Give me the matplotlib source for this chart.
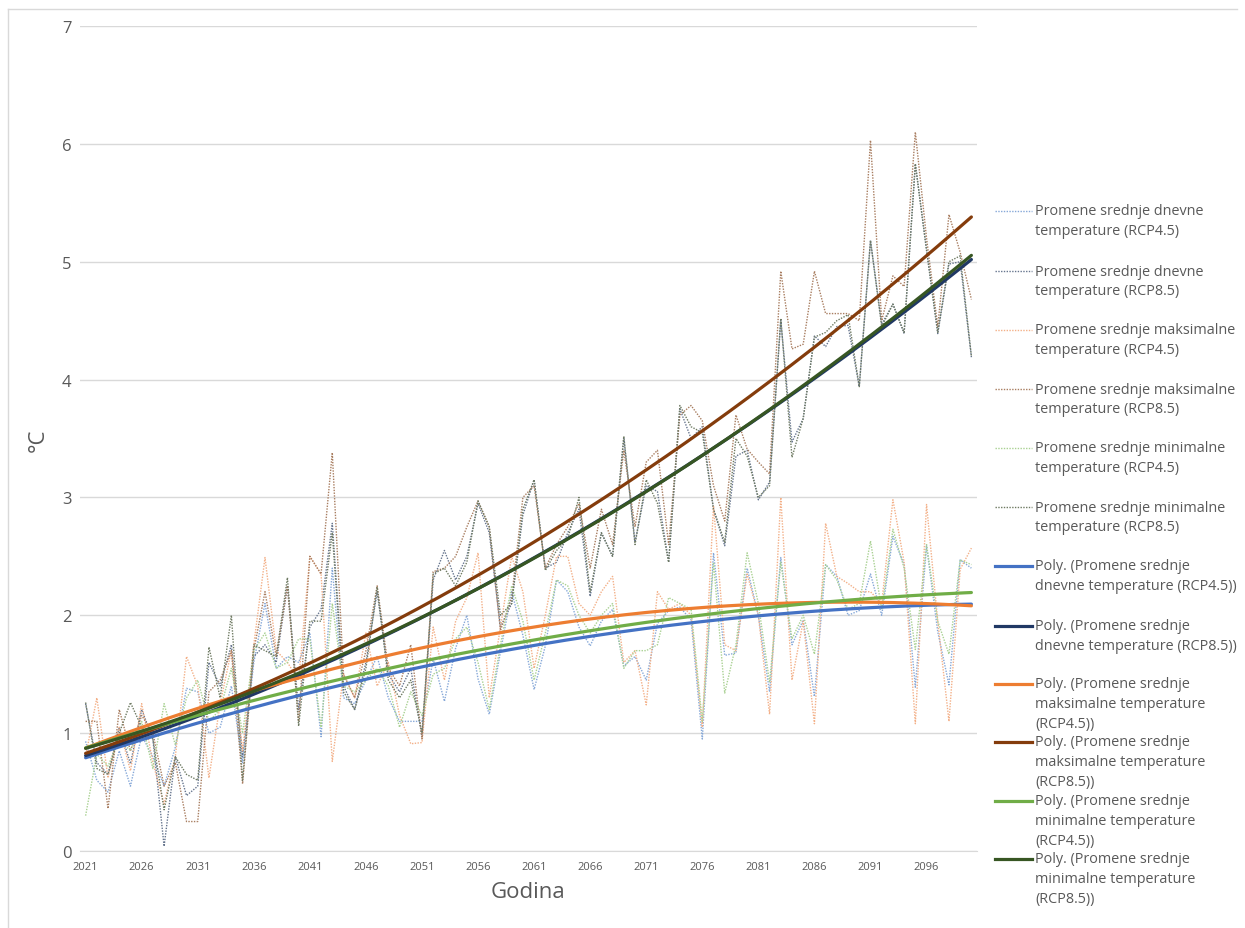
import numpy as np
import matplotlib
matplotlib.use("Agg")
import matplotlib.pyplot as plt
from matplotlib.lines import Line2D

plt.rcParams['font.family'] = ['Open Sans', 'DejaVu Sans']

years = list(range(2021, 2101))

dnevne_45 = [0.93, 0.60, 0.50, 0.85, 0.55, 0.98, 0.80, 0.55, 0.88, 1.38,
             1.35, 1.00, 1.05, 1.40, 0.75, 1.60, 2.10, 1.55, 1.65, 1.60,
             1.85, 0.97, 2.40, 1.30, 1.25, 1.45, 1.65, 1.30, 1.10, 1.10,
             1.10, 1.63, 1.27, 1.72, 2.00, 1.46, 1.16, 1.69, 2.20, 1.83,
             1.37, 1.74, 2.30, 2.20, 1.90, 1.74, 1.95, 2.05, 1.57, 1.65,
             1.45, 1.93, 2.04, 2.07, 1.96, 0.95, 2.53, 1.66, 1.68, 2.40,
             2.00, 1.35, 2.49, 1.75, 1.96, 1.31, 2.43, 2.33, 2.00, 2.04,
             2.35, 2.00, 2.67, 2.43, 1.39, 2.59, 1.86, 1.41, 2.47, 2.40]

dnevne_85 = [1.25, 0.75, 0.65, 1.05, 0.74, 1.20, 0.95, 0.04, 0.80, 0.47,
             0.55, 1.60, 1.40, 1.75, 0.80, 1.65, 1.75, 1.60, 2.25, 1.20,
             1.90, 2.05, 2.78, 1.40, 1.20, 1.60, 2.20, 1.50, 1.35, 1.55,
             0.97, 2.30, 2.55, 2.30, 2.50, 2.95, 2.70, 1.90, 2.10, 2.85,
             3.15, 2.40, 2.45, 2.70, 2.90, 2.16, 2.70, 2.50, 3.50, 2.62,
             3.10, 3.05, 2.45, 3.75, 3.50, 3.60, 2.90, 2.59, 3.35, 3.40,
             2.98, 3.13, 4.50, 3.47, 3.67, 4.37, 4.28, 4.45, 4.46, 3.94,
             5.18, 4.47, 4.64, 4.39, 5.83, 5.10, 4.39, 4.98, 5.00, 4.19]

maks_45 = [0.80, 1.30, 0.62, 1.05, 0.68, 1.25, 0.75, 0.40, 0.80, 1.65,
           1.40, 0.62, 1.25, 1.70, 0.85, 1.75, 2.49, 1.70, 1.60, 1.45,
           2.50, 2.35, 0.76, 1.50, 1.30, 1.85, 1.40, 1.60, 1.15, 0.91,
           0.92, 1.90, 1.45, 1.95, 2.15, 2.53, 1.30, 1.90, 2.50, 2.20,
           1.55, 2.00, 2.50, 2.50, 2.10, 2.00, 2.20, 2.33, 1.60, 1.70,
           1.24, 2.20, 2.05, 2.10, 2.00, 1.05, 2.93, 1.75, 1.70, 2.35,
           2.00, 1.16, 3.00, 1.45, 1.95, 1.08, 2.78, 2.33, 2.27, 2.20,
           2.20, 2.10, 2.98, 2.45, 1.08, 2.94, 1.95, 1.10, 2.39, 2.57]

maks_85 = [1.10, 1.10, 0.36, 1.20, 0.85, 1.15, 1.00, 0.55, 0.75, 0.25,
           0.25, 1.35, 1.45, 1.70, 0.57, 1.70, 2.20, 1.65, 2.25, 1.10,
           2.50, 2.35, 3.38, 1.50, 1.30, 1.70, 2.25, 1.55, 1.40, 1.75,
           0.95, 2.37, 2.40, 2.50, 2.75, 2.97, 2.75, 1.87, 2.15, 3.00,
           3.10, 2.40, 2.60, 2.75, 2.95, 2.40, 2.90, 2.60, 3.40, 2.75,
           3.30, 3.40, 2.60, 3.70, 3.78, 3.65, 3.10, 2.80, 3.70, 3.41,
           3.30, 3.20, 4.92, 4.26, 4.30, 4.92, 4.56, 4.56, 4.56, 4.50,
           6.03, 4.50, 4.88, 4.79, 6.10, 5.20, 4.45, 5.40, 5.08, 4.68]

min_45 = [0.30, 0.82, 0.72, 0.95, 0.85, 1.10, 0.70, 1.25, 0.90, 1.30,
          1.45, 1.10, 1.20, 1.55, 1.00, 1.70, 1.85, 1.55, 1.60, 1.80,
          1.80, 1.05, 2.10, 1.40, 1.35, 1.45, 1.55, 1.40, 1.05, 1.35,
          1.15, 1.50, 1.55, 1.80, 1.90, 1.60, 1.20, 1.75, 2.25, 1.95,
          1.45, 1.85, 2.30, 2.25, 2.00, 1.85, 2.00, 2.10, 1.55, 1.70,
          1.70, 1.75, 2.15, 2.10, 2.05, 1.10, 2.45, 1.34, 1.75, 2.53,
          2.10, 1.43, 2.45, 1.80, 2.00, 1.67, 2.43, 2.30, 2.05, 2.10,
          2.63, 2.05, 2.73, 2.40, 1.71, 2.60, 1.95, 1.67, 2.47, 2.43]

min_85 = [1.26, 0.70, 0.65, 1.00, 1.26, 1.05, 0.95, 0.35, 0.80, 0.65,
          0.60, 1.73, 1.30, 2.00, 0.60, 1.75, 1.70, 1.65, 2.32, 1.06,
          1.95, 1.95, 2.70, 1.35, 1.20, 1.55, 2.24, 1.45, 1.30, 1.45,
          1.00, 2.35, 2.40, 2.25, 2.45, 2.97, 2.75, 2.00, 2.10, 2.90,
          3.15, 2.38, 2.55, 2.65, 3.00, 2.20, 2.70, 2.50, 3.52, 2.60,
          3.15, 2.95, 2.45, 3.78, 3.60, 3.55, 2.90, 2.62, 3.50, 3.35,
          3.00, 3.10, 4.52, 3.34, 3.67, 4.36, 4.40, 4.50, 4.55, 3.94,
          5.18, 4.45, 4.64, 4.40, 5.83, 5.10, 4.40, 5.00, 5.05, 4.20]

series_labels = [
    "Promene srednje dnevne\ntemperature (RCP4.5)",
    "Promene srednje dnevne\ntemperature (RCP8.5)",
    "Promene srednje maksimalne\ntemperature (RCP4.5)",
    "Promene srednje maksimalne\ntemperature (RCP8.5)",
    "Promene srednje minimalne\ntemperature (RCP4.5)",
    "Promene srednje minimalne\ntemperature (RCP8.5)",
]
trend_labels = [
    "Poly. (Promene srednje\ndnevne temperature (RCP4.5))",
    "Poly. (Promene srednje\ndnevne temperature (RCP8.5))",
    "Poly. (Promene srednje\nmaksimalne temperature\n(RCP4.5))",
    "Poly. (Promene srednje\nmaksimalne temperature\n(RCP8.5))",
    "Poly. (Promene srednje\nminimalne temperature\n(RCP4.5))",
    "Poly. (Promene srednje\nminimalne temperature\n(RCP8.5))",
]
x_tick_years = list(range(2021, 2101, 5))
y_ticks = [0, 1, 2, 3, 4, 5, 6, 7]

data = [dnevne_45, dnevne_85, maks_45, maks_85, min_45, min_85]
dot_colors = ['#86a8d8', '#66758e', '#f3b088', '#a87d60', '#a9d192', '#6e7a62']
trend_colors = ['#4472C4', '#203864', '#ED7D31', '#843C0C', '#70AD47', '#375623']

W, H = 1245, 929
fig = plt.figure(figsize=(W / 100, H / 100), dpi=100)
ax = fig.add_axes([80 / W, 1 - 852 / H, (977 - 80) / W, (852 - 27) / H])

yrs = np.array(years, dtype=float)
dot_style = (0, (1.0, 1.0))
for vals, c in zip(data, dot_colors):
    ax.plot(yrs, vals, color=c, lw=1.0, linestyle=dot_style, zorder=2)

xf = np.linspace(yrs[0], yrs[-1], 300)
for vals, c in zip(data, trend_colors):
    coef = np.polyfit(yrs - 2060, np.array(vals), 2)
    ax.plot(xf, np.polyval(coef, xf - 2060), color=c, lw=2.3, zorder=3,
            solid_capstyle='round')

ax.set_xlim(2020.5, 2100.5)
ax.set_ylim(0, 7)
ax.set_yticks(y_ticks)
ax.set_xticks(x_tick_years)
ax.set_xticklabels([str(y) for y in x_tick_years], fontsize=8, color='#595959')
ax.set_yticklabels([str(v) for v in y_ticks], fontsize=12, color='#595959')
ax.tick_params(axis='both', length=0)
ax.tick_params(axis='x', pad=7)
ax.tick_params(axis='y', pad=6)
ax.grid(axis='y', color='#d9d9d9', lw=1.0, zorder=0)
ax.set_axisbelow(True)
for s in ['top', 'right', 'left']:
    ax.spines[s].set_visible(False)
ax.spines['bottom'].set_color('#d9d9d9')

fig.text(528 / W, 1 - 893 / H, "Godina", ha='center', va='center',
         fontsize=16, color='#595959')
fig.text(38 / W, 1 - 440 / H, "°C", ha='center', va='center',
         rotation=90, fontsize=16, color='#595959')

# legend
all_labels = series_labels + trend_labels
entry_y = [212, 272, 331, 390, 449, 508, 567, 627, 685, 743, 802, 860]
line_gap = 19.8
for i, lab in enumerate(all_labels):
    y0 = entry_y[i]
    if i < 6:
        fig.add_artist(Line2D([995 / W, 1032 / W], [1 - y0 / H, 1 - y0 / H],
                              color=dot_colors[i], lw=1.0, linestyle=dot_style))
    else:
        fig.add_artist(Line2D([995 / W, 1032 / W], [1 - y0 / H, 1 - y0 / H],
                              color=trend_colors[i - 6], lw=2.3))
    for j, line in enumerate(lab.split('\n')):
        fig.text(1035 / W, 1 - (y0 + j * line_gap) / H, line, ha='left',
                 va='center', fontsize=10.4, color='#595959')

# chart border
fig.add_artist(Line2D([8 / W, 8 / W], [1 - 10 / H, 0], color='#d9d9d9', lw=1.0))
fig.add_artist(Line2D([8 / W, 1 - 8 / W], [1 - 10 / H, 1 - 10 / H], color='#d9d9d9', lw=1.0))

fig.savefig("out.png", dpi=100)
